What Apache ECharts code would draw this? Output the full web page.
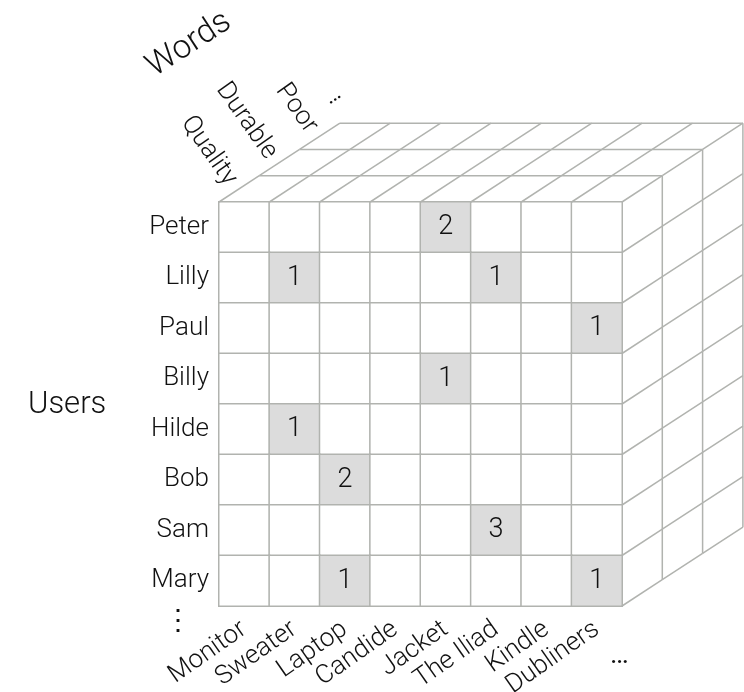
<!DOCTYPE html>
<html>
<head>
<meta charset="utf-8">
<script src="https://cdn.jsdelivr.net/npm/echarts@6/dist/echarts.min.js"></script>
<style>html,body{margin:0;padding:0;background:#fff}#cube{width:744px;height:692px}</style>
</head>
<body>
<div id="cube"></div>
<script>
var products = ['Monitor', 'Sweater', 'Laptop', 'Candide', 'Jacket', 'The Iliad', 'Kindle', 'Dubliners'];
var users = ['Peter', 'Lilly', 'Paul', 'Billy', 'Hilde', 'Bob', 'Sam', 'Mary'];
var words = ['Quality', 'Durable', 'Poor'];
// front slice of the cube: users x products
var counts = [
  [0, 0, 0, 0, 2, 0, 0, 0],
  [0, 1, 0, 0, 0, 1, 0, 0],
  [0, 0, 0, 0, 0, 0, 0, 1],
  [0, 0, 0, 0, 1, 0, 0, 0],
  [0, 1, 0, 0, 0, 0, 0, 0],
  [0, 0, 2, 0, 0, 0, 0, 0],
  [0, 0, 0, 0, 0, 3, 0, 0],
  [0, 0, 1, 0, 0, 0, 0, 1]
];

var lineColor = '#b1b3af';
var font = 'Roboto';
var cube = echarts.init(document.getElementById('cube'));

var cells = [];
counts.forEach(function (row, y) {
  row.forEach(function (v, x) { cells.push([x, y, v]); });
});

// one slab of depth per word: diagonals + back edges + label
function slab(params, api) {
  var d = api.value(2);
  var c = api.coord([0, 0]);
  var s = api.size([1, 1]);
  var cw = s[0], ch = s[1];
  var x0 = c[0] - cw / 2, y0 = c[1] - ch / 2;
  var nx = products.length, ny = users.length;
  var dx = cw * 0.8, dy = ch * 0.52;
  var xr = x0 + nx * cw;
  var kids = [];
  function seg(a, b, e, f) {
    kids.push({type: 'line', shape: {x1: a, y1: b, x2: e, y2: f},
      style: {stroke: lineColor, lineWidth: 1.5}});
  }
  for (var i = 0; i <= nx; i++) {
    seg(x0 + i * cw + dx * d, y0 - dy * d, x0 + i * cw + dx * (d + 1), y0 - dy * (d + 1));
  }
  for (var j = 1; j <= ny; j++) {
    seg(xr + dx * d, y0 + j * ch - dy * d, xr + dx * (d + 1), y0 + j * ch - dy * (d + 1));
  }
  seg(x0 + dx * (d + 1), y0 - dy * (d + 1), xr + dx * (d + 1), y0 - dy * (d + 1));
  seg(xr + dx * (d + 1), y0 - dy * (d + 1), xr + dx * (d + 1), y0 + ny * ch - dy * (d + 1));
  kids.push({
    type: 'text',
    x: x0 + dx * (d + 0.5) - 8,
    y: y0 - dy * (d + 0.5) - 6,
    rotation: -55 * Math.PI / 180,
    style: {text: words[d], fontSize: 26, fontFamily: font, fontWeight: 300,
      fill: '#111', align: 'right', verticalAlign: 'middle'}
  });
  return {type: 'group', children: kids};
}

option = {
  animation: false,
  grid: {left: 219, top: 202, width: 403, height: 404, outerBoundsMode: 'none', containLabel: false},
  xAxis: {
    type: 'category',
    data: products,
    axisLine: {show: false},
    axisTick: {show: false},
    splitLine: {show: false},
    axisLabel: {interval: 0, rotate: 35, margin: 21, fontSize: 26,
      fontFamily: font, fontWeight: 300, color: '#111'}
  },
  yAxis: {
    type: 'category',
    data: users,
    inverse: true,
    axisLine: {show: false},
    axisTick: {show: false},
    splitLine: {show: false},
    axisLabel: {margin: 10, fontSize: 26, fontFamily: font, fontWeight: 300, color: '#111'}
  },
  visualMap: {
    type: 'piecewise',
    show: false,
    dimension: 2,
    seriesIndex: 0,
    pieces: [{lte: 0, color: '#ffffff'}, {gt: 0, color: '#dcdcdc'}]
  },
  graphic: [
    {type: 'text', x: 28, y: 405, style: {text: 'Users', fontSize: 31,
      fontFamily: font, fontWeight: 300, fill: '#111', verticalAlign: 'middle'}},
    {type: 'text', x: 159, y: 84, rotation: 33 * Math.PI / 180,
      style: {text: 'Words', fontSize: 33, fontFamily: font, fontWeight: 300, fill: '#111',
        verticalAlign: 'bottom'}},
    {type: 'text', x: 326, y: 100, rotation: 33 * Math.PI / 180,
      style: {text: '…', fontSize: 23, fontFamily: font, fill: '#111', verticalAlign: 'middle'}},
    {type: 'text', x: 610, y: 656, style: {text: '…', fontSize: 28, fontFamily: font,
      fill: '#111', verticalAlign: 'middle'}},
    {type: 'text', x: 178, y: 622, style: {text: '⋮', fontSize: 28, fontFamily: font,
      fill: '#111', align: 'center', verticalAlign: 'middle'}}
  ],
  series: [{
    type: 'heatmap',
    data: cells,
    itemStyle: {borderColor: lineColor, borderWidth: 1.5},
    label: {show: true, fontSize: 27, fontFamily: font, fontWeight: 300, color: '#111',
      formatter: function (p) { return p.value[2] > 0 ? p.value[2] : ''; }},
    emphasis: {disabled: true}
  }, {
    type: 'custom',
    clip: false,
    silent: true,
    renderItem: slab,
    data: words.map(function (w, i) { return [0, 0, i]; }),
    z: 3
  }]
};

cube.setOption(option);
</script>
</body>
</html>
